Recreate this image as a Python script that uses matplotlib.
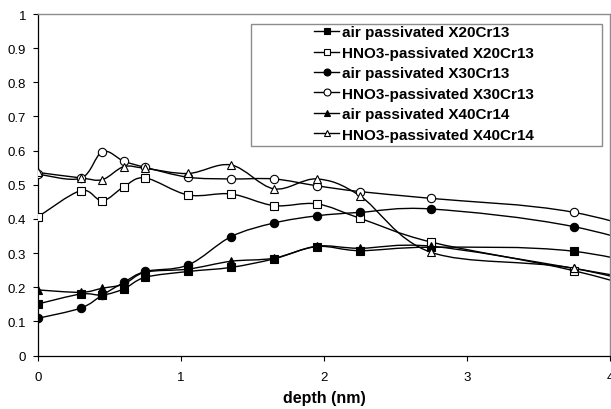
import numpy as np
import matplotlib
matplotlib.use('Agg')
import matplotlib.pyplot as plt
from matplotlib.path import Path
from matplotlib.patches import PathPatch, Rectangle
from matplotlib.lines import Line2D
from matplotlib.ticker import FuncFormatter

plt.rcParams['font.family'] = ['Liberation Sans', 'DejaVu Sans']

# ---- data (depth in nm, fraction) ----
depth = [0, 0.3, 0.45, 0.6, 0.75, 1.05, 1.35, 1.65, 1.95, 2.25, 2.75, 3.75, 4.75]

air_x20  = [0.151, 0.180, 0.177, 0.195, 0.229, 0.246, 0.258, 0.283, 0.319, 0.307, 0.317, 0.305, 0.217]
hno3_x20 = [0.406, 0.483, 0.453, 0.494, 0.520, 0.470, 0.473, 0.439, 0.444, 0.402, 0.332, 0.248, 0.132]
air_x30  = [0.109, 0.139, 0.177, 0.214, 0.246, 0.265, 0.348, 0.388, 0.409, 0.419, 0.429, 0.377, 0.261]
hno3_x30 = [0.531, 0.519, 0.597, 0.569, 0.551, 0.522, 0.517, 0.517, 0.497, 0.480, 0.460, 0.419, 0.303]
air_x40  = [0.192, 0.185, 0.197, 0.209, 0.244, 0.253, 0.276, 0.285, 0.320, 0.314, 0.320, 0.255, 0.179]
hno3_x40 = [0.536, 0.520, 0.515, 0.553, 0.548, 0.533, 0.558, 0.488, 0.517, 0.468, 0.302, 0.255, 0.151]

labels = ['air passivated X20Cr13', 'HNO3-passivated X20Cr13',
          'air passivated X30Cr13', 'HNO3-passivated X30Cr13',
          'air passivated X40Cr14', 'HNO3-passivated X40Cr14']
series = [air_x20, hno3_x20, air_x30, hno3_x30, air_x40, hno3_x40]
markers = ['s', 's', 'o', 'o', '^', '^']
filled = [True, False, True, False, True, False]


def smooth_path(x, y):
    # Excel風スムージング（Catmull-Rom -> 3次ベジェ）
    P = np.column_stack([x, y]).astype(float)
    n = len(P)
    verts = [P[0]]
    codes = [Path.MOVETO]
    for i in range(n - 1):
        p0 = P[i - 1] if i > 0 else P[i]
        p3 = P[i + 2] if i + 2 < n else P[i + 1]
        c1 = P[i] + (P[i + 1] - p0) / 6.0
        c2 = P[i + 1] - (p3 - P[i]) / 6.0
        verts += [c1, c2, P[i + 1]]
        codes += [Path.CURVE4] * 3
    return Path(verts, codes)


fig = plt.figure(figsize=(6.11, 4.10), dpi=100)
ax = fig.add_axes([38 / 611, 1 - 356.5 / 410, 572 / 611, 341.5 / 410])

handles = []
for vals, lab, mk, fl in zip(series, labels, markers, filled):
    ax.add_patch(PathPatch(smooth_path(depth, vals), facecolor='none',
                           edgecolor='black', lw=1.0, zorder=2))
    fc = 'black' if fl else 'white'
    ax.plot(depth, vals, ls='none', marker=mk, ms=6, mfc=fc, mec='black',
            mew=0.8, zorder=3)
    handles.append(Line2D([], [], color='black', lw=1.0, marker=mk, ms=5,
                          mfc=fc, mec='black', mew=0.8, label=lab))

ax.set_xlim(0, 4)
ax.set_ylim(0, 1)
ax.set_xticks([0, 1, 2, 3, 4])
ax.set_yticks(np.arange(0, 1.01, 0.1))
fmt = FuncFormatter(lambda v, p: f'{v:g}')
ax.xaxis.set_major_formatter(fmt)
ax.yaxis.set_major_formatter(fmt)
ax.tick_params(direction='out', length=3.5, width=0.8, labelsize=9.5, pad=5)
ax.tick_params(axis='x', pad=8)

for s in ['top', 'right']:
    ax.spines[s].set_color('#8c8c8c')
    ax.spines[s].set_linewidth(1.0)
for s in ['left', 'bottom']:
    ax.spines[s].set_color('black')
    ax.spines[s].set_linewidth(0.9)

ax.set_xlabel('depth (nm)', fontsize=11.5, fontweight='bold', labelpad=5)

# 凡例枠
fig.patches.append(Rectangle((251 / 611, 1 - 146.5 / 410), 351 / 611, 121.5 / 410,
                             transform=fig.transFigure, facecolor='white',
                             edgecolor='#8c8c8c', lw=1.0, zorder=5))
leg = fig.legend(handles=handles, loc='center',
                 bbox_to_anchor=(424 / 611, 1 - 84.5 / 410), frameon=False,
                 handlelength=1.6, handletextpad=0.2, labelspacing=0.42,
                 prop={'size': 11, 'weight': 'bold'})
leg.set_zorder(6)

fig.savefig('out.png', dpi=100)
